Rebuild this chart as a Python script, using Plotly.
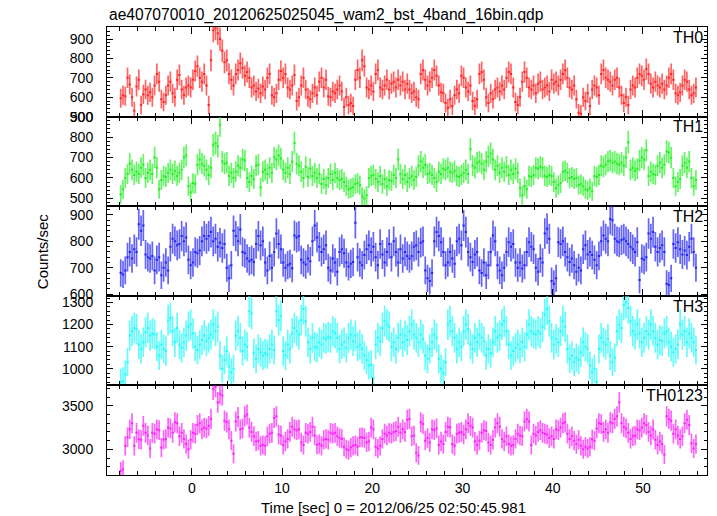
import numpy as np
import plotly.graph_objects as go

T_START = -8.0   # start of the burst light curve [s]
BIN = 0.25       # bin width [s] (16 x 1/64 s)

TH0 = [
    595, 610, 605, 700, 665, 600, 530, 655, 690, 560, 615, 640, 610, 625, 600, 660,
    720, 680, 590, 575, 610, 660, 680, 620, 600, 690, 715, 640, 610, 650, 660, 650,
    690, 735, 760, 700, 680, 720, 660, 560, 790, 945, 955, 930, 900, 840, 780, 790,
    720, 690, 660, 720, 740, 775, 750, 710, 730, 700, 650, 660, 630, 645, 620, 655,
    640, 700, 720, 610, 600, 620, 690, 735, 700, 720, 650, 640, 660, 715, 580, 600,
    660, 700, 640, 600, 590, 620, 650, 610, 680, 700, 650, 690, 605, 600, 630, 620,
    640, 660, 630, 550, 600, 560, 570, 555, 690, 740, 700, 790, 760, 650, 640, 660,
    630, 720, 740, 650, 640, 660, 690, 640, 670, 680, 650, 690, 660, 680, 640, 670,
    640, 620, 630, 600, 590, 720, 740, 690, 660, 680, 700, 740, 710, 660, 625, 620,
    570, 545, 590, 555, 610, 640, 620, 710, 700, 650, 630, 660, 580, 555, 590, 720,
    730, 690, 600, 570, 620, 590, 640, 650, 630, 660, 640, 700, 730, 720, 650, 575,
    560, 600, 680, 730, 700, 650, 640, 660, 620, 670, 680, 640, 650, 660, 630, 690,
    670, 680, 660, 690, 720, 740, 700, 650, 640, 660, 590, 520, 515, 600, 580, 620,
    555, 640, 660, 650, 610, 720, 740, 700, 690, 680, 660, 690, 700, 650, 610, 570,
    600, 560, 640, 660, 650, 700, 720, 710, 690, 745, 720, 670, 650, 680, 660, 650,
    670, 640, 660, 700, 720, 690, 620, 610, 625, 660, 690, 680, 640, 610, 620, 650,
]

TH1 = [
    520, 545, 600, 620, 670, 640, 615, 630, 620, 650, 665, 600, 625, 640, 620, 700,
    650, 545, 590, 610, 605, 625, 640, 620, 635, 610, 625, 640, 700, 710, 560, 530,
    575, 570, 665, 690, 670, 660, 640, 615, 650, 760, 770, 755, 860, 680, 670, 675,
    610, 625, 600, 630, 660, 650, 690, 685, 600, 580, 610, 595, 660, 665, 555, 630,
    640, 620, 650, 625, 700, 690, 710, 695, 640, 625, 650, 620, 680, 770, 670, 660,
    630, 600, 655, 605, 645, 610, 625, 600, 620, 570, 595, 565, 600, 620, 590, 625,
    600, 590, 595, 580, 560, 545, 550, 555, 570, 575, 565, 510, 500, 515, 600, 610,
    615, 595, 580, 610, 570, 595, 560, 590, 585, 615, 600, 690, 620, 595, 615, 580,
    600, 610, 590, 605, 660, 680, 650, 665, 620, 625, 615, 600, 580, 630, 620, 645,
    640, 650, 630, 625, 635, 610, 605, 615, 625, 640, 620, 740, 660, 650, 675, 680,
    670, 640, 680, 705, 720, 690, 640, 660, 625, 650, 630, 655, 615, 640, 620, 645,
    625, 550, 515, 560, 545, 610, 605, 615, 650, 645, 655, 650, 610, 605, 615, 610,
    580, 550, 565, 575, 630, 635, 625, 600, 605, 595, 600, 565, 570, 560, 545, 540,
    550, 535, 610, 605, 615, 660, 655, 665, 680, 685, 675, 680, 670, 665, 675, 660,
    700, 775, 640, 650, 635, 645, 685, 700, 690, 735, 610, 630, 620, 615, 660, 675,
    650, 665, 730, 725, 700, 600, 560, 580, 595, 660, 675, 650, 680, 600, 560, 590,
]

TH2 = [
    680, 675, 690, 740, 760, 735, 770, 760, 865, 840, 860, 750, 740, 735, 745, 690,
    730, 740, 672, 700, 720, 690, 780, 810, 800, 785, 790, 820, 800, 815, 730, 710,
    720, 760, 755, 765, 800, 820, 810, 820, 835, 800, 810, 780, 795, 775, 790, 700,
    660, 710, 840, 820, 800, 845, 760, 755, 735, 725, 730, 722, 790, 820, 785, 800,
    720, 690, 745, 700, 760, 830, 790, 770, 720, 700, 710, 715, 698, 822, 815, 820,
    730, 720, 712, 735, 725, 800, 860, 815, 780, 760, 770, 785, 700, 690, 735, 720,
    685, 760, 770, 755, 720, 705, 715, 722, 870, 740, 720, 710, 748, 770, 785, 760,
    780, 740, 710, 790, 750, 720, 760, 790, 740, 800, 760, 720, 770, 735, 760, 745,
    735, 745, 780, 785, 760, 795, 800, 690, 660, 650, 680, 800, 835, 820, 797, 760,
    710, 720, 760, 735, 715, 800, 810, 785, 860, 835, 760, 740, 722, 750, 760, 690,
    680, 720, 672, 710, 760, 822, 800, 710, 690, 672, 700, 760, 797, 780, 790, 720,
    700, 720, 697, 710, 760, 797, 780, 770, 700, 685, 735, 720, 830, 848, 810, 650,
    640, 660, 797, 790, 800, 760, 740, 722, 735, 710, 685, 700, 690, 770, 785, 750,
    760, 748, 730, 710, 745, 800, 822, 810, 800, 885, 880, 810, 800, 797, 805, 810,
    800, 790, 780, 770, 760, 797, 654, 735, 730, 740, 830, 810, 835, 780, 760, 775,
    785, 760, 640, 635, 660, 790, 775, 797, 770, 750, 765, 748, 780, 810, 760, 700,
]

TH3 = [
    940, 945, 975, 1030, 1150, 1170, 1185, 1180, 1110, 1090, 1120, 1165, 1185, 1150, 1160, 1155,
    1100, 1060, 1110, 1090, 1080, 1220, 1230, 1170, 1120, 1185, 1110, 1095, 1120, 1150, 1190, 1200,
    1160, 1100, 1085, 1110, 1130, 1150, 1125, 1140, 1155, 1200, 1170, 1190, 1060, 1000, 1040, 1080,
    1010, 985, 1000, 1150, 1170, 1140, 1080, 1110, 1100, 1260, 1250, 1070, 1045, 1090, 1075, 1060,
    1070, 1065, 1090, 1110, 1085, 1260, 1220, 1240, 1080, 1060, 1110, 1090, 1160, 1185, 1170, 1155,
    1220, 1270, 1215, 1120, 1090, 1140, 1100, 1095, 1120, 1110, 1140, 1135, 1145, 1140, 1170, 1160,
    1140, 1090, 1110, 1120, 1095, 1140, 1155, 1125, 1150, 1100, 1110, 1090, 1060, 1040, 1015, 1020,
    960, 1110, 1140, 1125, 1185, 1215, 1200, 1190, 1100, 1120, 1090, 1140, 1155, 1120, 1150, 1130,
    1170, 1200, 1155, 1140, 1120, 1155, 1135, 1060, 1045, 1090, 1120, 1155, 1140, 1045, 1000, 980,
    1030, 1200, 1215, 1170, 1140, 1090, 1120, 1100, 1170, 1200, 1180, 1110, 1090, 1140, 1120, 1155,
    1140, 1125, 1060, 1090, 1070, 1120, 1170, 1140, 1150, 1200, 1215, 1170, 1110, 1060, 1080, 1095,
    1110, 1090, 1120, 1100, 1155, 1200, 1170, 1160, 1155, 1170, 1160, 1190, 1245, 1270, 1215, 1140,
    1110, 1135, 1120, 1170, 1215, 1190, 1090, 1045, 1060, 1030, 1050, 1040, 1075, 1120, 1100, 1090,
    1015, 985, 1000, 940, 1090, 1140, 1120, 1110, 1135, 1060, 1030, 1050, 1170, 1200, 1185, 1290,
    1300, 1275, 1215, 1170, 1155, 1200, 1160, 1120, 1140, 1170, 1155, 1200, 1170, 1140, 1110, 1130,
    1125, 1160, 1170, 1120, 1100, 1075, 1090, 1110, 1200, 1155, 1170, 1120, 1160, 1140, 1120, 1085,
]

TH0123 = [
    2750, 2770, 3040, 3140, 3230, 3300, 3040, 3190, 3115, 3110, 3270, 3190, 3160, 3010, 3190, 3180,
    3230, 3220, 3020, 3110, 3120, 3250, 3240, 3190, 3310, 3300, 3150, 3190, 3120, 3060, 3000, 3110,
    3190, 3180, 3280, 3300, 3230, 3250, 3240, 3270, 3350, 3690, 3720, 3540, 3640, 3620, 3330, 3310,
    3230, 3100, 2950, 3320, 3370, 3230, 3240, 3380, 3400, 3250, 3200, 3150, 3090, 3100, 3040, 3050,
    3040, 3150, 3180, 3190, 3360, 3380, 3170, 3160, 3050, 3090, 3120, 3200, 3260, 3230, 3220, 3230,
    3080, 3050, 3190, 3180, 3200, 3260, 3160, 3050, 3060, 3040, 3110, 3120, 3110, 3190, 3180, 3190,
    3150, 3130, 3120, 3030, 3000, 2990, 3020, 3040, 3050, 3030, 3135, 3140, 3130, 3080, 3090, 3250,
    3230, 3030, 3010, 3040, 3120, 3180, 3160, 3190, 3180, 3200, 3210, 3260, 3190, 3230, 3200, 3340,
    3350, 3150, 3160, 2960, 2930, 3310, 3290, 3100, 3130, 3080, 3230, 3220, 3240, 3050, 3090, 3060,
    3200, 3260, 3250, 3060, 3040, 3180, 3190, 3200, 3170, 3230, 3300, 3270, 3250, 3090, 3050, 3100,
    3190, 3220, 3210, 3080, 3050, 3110, 3250, 3300, 3260, 3120, 3090, 3150, 3060, 3040, 3050, 3120,
    3180, 3160, 3150, 3320, 3350, 3320, 3050, 3180, 3160, 3200, 3220, 3190, 3180, 3170, 3130, 3150,
    3120, 3230, 3220, 3250, 3300, 3310, 3180, 3120, 3150, 3100, 3060, 3110, 3040, 3000, 3030, 3010,
    3030, 3115, 3100, 3240, 3300, 3290, 3200, 3230, 3190, 3310, 3300, 3350, 3380, 3540, 3300, 3260,
    3240, 3190, 3120, 3150, 3160, 3230, 3220, 3250, 3300, 3280, 3200, 3160, 3230, 3110, 3050, 3090,
    3060, 2940, 3380, 3350, 3330, 3180, 3230, 3160, 3120, 3150, 3300, 3340, 3280, 3070, 3010, 3060,
]

PANEL_NAMES = ["TH0", "TH1", "TH2", "TH3", "TH0123"]
SERIES = [TH0, TH1, TH2, TH3, TH0123]
COLORS = [(255, 40, 40), (40, 240, 40), (40, 40, 245), (40, 250, 250), (250, 40, 250)]
Y_RANGES = [[500, 962], [462, 900], [594, 933], [925, 1330], [2705, 3735]]
Y_DTICK = [100, 100, 100, 100, 500]
Y_MINOR = [20, 20, 20, 20, 100]
X_RANGE = [-9.4, 57.1]

TITLE = "ae407070010_20120625025045_wam2_bst_4band_16bin.qdp"
X_TITLE = "Time [sec] 0 = 2012/06/25 02:50:45.981"
Y_TITLE = "Counts/sec"

FONT = "Liberation Sans, Arial, sans-serif"

n = len(TH0)
time = T_START + BIN * (np.arange(n) + 0.5)

fig = go.Figure()
npan = len(SERIES)
layout = {}
for k, (name, vals, col, yr, dt, mn) in enumerate(zip(PANEL_NAMES, SERIES, COLORS, Y_RANGES, Y_DTICK, Y_MINOR)):
    idx = "" if k == 0 else str(k + 1)
    v = np.array(vals, dtype=float)
    err = np.sqrt(v * BIN) / BIN
    solid = "rgb(%d,%d,%d)" % col
    light = "rgba(%d,%d,%d,0.72)" % col
    fig.add_trace(go.Scatter(
        x=time, y=v, mode="markers",
        marker=dict(size=0.1, color=solid, opacity=0),
        error_x=dict(type="constant", value=BIN / 2, thickness=2, width=0, color=solid),
        error_y=dict(type="data", array=err, thickness=1.7, width=0, color=light),
        xaxis="x" + idx, yaxis="y" + idx, showlegend=False, hoverinfo="skip",
    ))
    top = 1 - k / npan
    bot = 1 - (k + 1) / npan
    layout["xaxis" + idx] = dict(
        domain=[0, 1], anchor="y" + idx, range=X_RANGE,
        showline=True, linecolor="black", linewidth=1, mirror="ticks",
        ticks="inside", ticklen=7, tickwidth=1, tickcolor="black",
        tick0=0, dtick=10,
        minor=dict(dtick=2, ticks="inside", ticklen=4, tickcolor="black", tickwidth=1),
        showgrid=False, zeroline=False,
        showticklabels=(k == npan - 1),
        tickfont=dict(family=FONT, size=14, color="black"),
    )
    if k > 0:
        layout["xaxis" + idx]["matches"] = "x"
    layout["yaxis" + idx] = dict(
        domain=[bot, top], anchor="x" + idx, range=yr,
        showline=True, linecolor="black", linewidth=1, mirror="ticks",
        ticks="inside", ticklen=6, tickwidth=1, tickcolor="black",
        tick0=0, dtick=dt,
        minor=dict(dtick=mn, ticks="inside", ticklen=3, tickcolor="black", tickwidth=1),
        showgrid=False, zeroline=False,
        ticklabelstandoff=10,
        tickfont=dict(family=FONT, size=14, color="black"),
    )
    fig.add_annotation(
        text=name, xref="x%s domain" % idx, yref="y%s domain" % idx,
        x=0.997, y=0.885, xanchor="right", yanchor="middle", showarrow=False,
        font=dict(family=FONT, size=16, color="black"),
    )

fig.add_annotation(text=TITLE, xref="paper", yref="paper", x=0.0, y=1.026,
                   xanchor="left", yanchor="middle", showarrow=False,
                   font=dict(family=FONT, size=15.6, color="black"))
fig.add_annotation(text=X_TITLE, xref="paper", yref="paper", x=0.477, y=-0.072,
                   xanchor="center", yanchor="middle", showarrow=False,
                   font=dict(family=FONT, size=15, color="black"))
fig.add_annotation(text=Y_TITLE, xref="paper", yref="paper", x=-0.108, y=0.5,
                   xanchor="center", yanchor="middle", showarrow=False, textangle=-90,
                   font=dict(family=FONT, size=15, color="black"))

# page body has an 8px default margin: size the figure so it fits the window
fig.update_layout(
    width=709, height=508,
    margin=dict(l=99, r=10, t=19, b=41),
    paper_bgcolor="white", plot_bgcolor="white",
    **layout,
)

fig.write_html("out.html")
